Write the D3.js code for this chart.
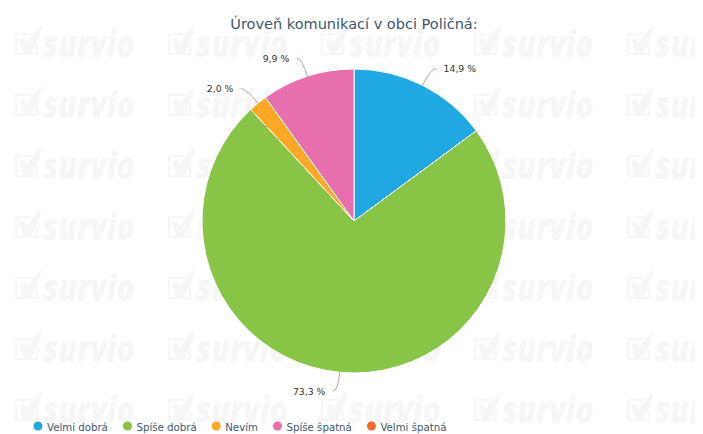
<!DOCTYPE html>
<html>
<head>
<meta charset="utf-8">
<script src="https://cdn.jsdelivr.net/npm/d3@7"></script>
<style>
  body { margin: 0; background: #fff; }
  text { font-family: "DejaVu Sans", sans-serif; }
</style>
</head>
<body>
<div class="chart"></div>
<script>
var categories = ["Velmi dobrá", "Spíše dobrá", "Nevím", "Spíše špatná", "Velmi špatná"];
var values = [14.9, 73.3, 2.0, 9.9, 0];
var colors = ["#1FA8E1", "#88C547", "#FFA826", "#E86FAD", "#F7692C"];
var title = "Úroveň komunikací v obci Poličná:";

var svgWidth = 703;
var svgHeight = 434;
var cx = 354;
var cy = 221;
var radius = 152;
var labelDistance = 19;

var svg = d3.select(".chart")
  .append("svg")
  .attr("width", svgWidth)
  .attr("height", svgHeight)
  .style("display", "block");

// Watermark tile, repeated behind the chart
var defs = svg.append("defs");
var tile = defs.append("pattern")
  .attr("id", "mark")
  .attr("patternUnits", "userSpaceOnUse")
  .attr("x", 12)
  .attr("y", 25)
  .attr("width", 153)
  .attr("height", 61);

tile.append("path")
  .attr("fill-rule", "evenodd")
  .attr("d", "M3 8H21L19 10H5V28H24V20L26 17V30H3Z")
  .attr("fill", "#f6f6f6");

tile.append("path")
  .attr("d", "M7 14L12 13L15 18C19 11 24 5 30 0C28 11 23 22 18 30H12Z")
  .attr("fill", "#f6f6f6");

tile.append("text")
  .attr("x", 31)
  .attr("y", 32)
  .attr("font-size", 37)
  .attr("font-weight", 800)
  .attr("font-style", "italic")
  .attr("textLength", 92)
  .attr("lengthAdjust", "spacingAndGlyphs")
  .attr("fill", "#f6f6f6")
  .style("font-family", "'Open Sans', sans-serif")
  .text("survio");

svg.append("rect")
  .attr("width", 695)
  .attr("height", svgHeight)
  .attr("fill", "url(#mark)");

svg.append("text")
  .attr("x", cx)
  .attr("y", 29)
  .attr("text-anchor", "middle")
  .attr("font-size", 14.5)
  .attr("fill", "#3E576F")
  .text(title);

// Pie
var pie = d3.pie().sort(null).value(d => d);
var arc = d3.arc().innerRadius(0).outerRadius(radius);
var slices = pie(values);

var pieGroup = svg.append("g")
  .attr("transform", `translate(${cx}, ${cy})`);

pieGroup.selectAll("path.slice")
  .data(slices.filter(d => d.value > 0))
  .enter()
  .append("path")
  .attr("class", "slice")
  .attr("d", arc)
  .attr("fill", d => colors[d.index])
  .attr("stroke", "#fff")
  .attr("stroke-width", 1)
  .attr("stroke-linejoin", "round");

// Labels with their soft connectors
function point(angle, r) {
  return [Math.sin(angle) * r, -Math.cos(angle) * r];
}

slices.filter(d => d.value > 0).forEach(function (d) {
  var mid = (d.startAngle + d.endAngle) / 2;
  var edge = point(mid, radius);
  var bend = point(mid, radius + labelDistance);
  var side = edge[0] >= 0 ? 1 : -1;
  var tipX = bend[0] + side * 5;

  pieGroup.append("path")
    .attr("d", `M${edge[0]},${edge[1]}Q${bend[0]},${bend[1]} ${tipX},${bend[1]}`)
    .attr("fill", "none")
    .attr("stroke", "#aaa")
    .attr("stroke-width", 1);

  pieGroup.append("text")
    .attr("x", tipX + side * 7.5)
    .attr("y", bend[1] + 0.5)
    .attr("dy", "0.35em")
    .attr("text-anchor", side > 0 ? "start" : "end")
    .attr("font-size", 9.3)
    .attr("fill", "#333")
    .text(d.value.toFixed(1).replace(".", ",") + " %");
});

// Legend
var legendX = 33;
var legend = svg.append("g");
categories.forEach(function (name, i) {
  legend.append("circle")
    .attr("cx", legendX + 5)
    .attr("cy", 426)
    .attr("r", 4.5)
    .attr("fill", colors[i]);
  var label = legend.append("text")
    .attr("x", legendX + 14)
    .attr("y", 431)
    .attr("font-size", 10.2)
    .attr("fill", "#3E576F")
    .text(name);
  legendX += 14 + label.node().getComputedTextLength() + 14.6;
});
</script>
</body>
</html>
